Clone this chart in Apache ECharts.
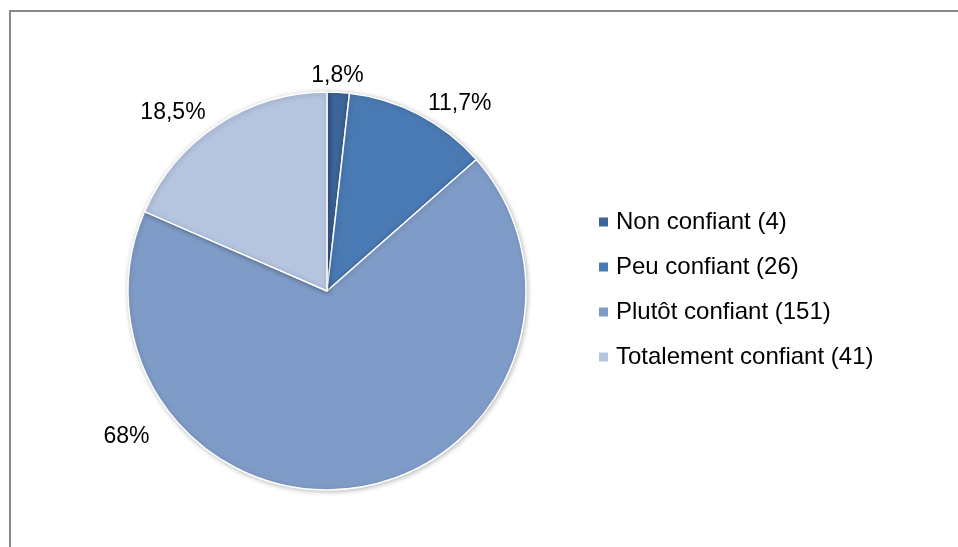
<!DOCTYPE html>
<html>
<head>
<meta charset="utf-8">
<script src="https://cdn.jsdelivr.net/npm/echarts@6/dist/echarts.min.js"></script>
<style>html,body{margin:0;padding:0;background:#fff;}#c{width:958px;height:547px;}</style>
</head>
<body>
<div id="c"></div>
<script>
var categories = ['Non confiant', 'Peu confiant', 'Plutôt confiant', 'Totalement confiant'];
var counts = [4, 26, 151, 41];
var percentLabels = ['1,8%', '11,7%', '68%', '18,5%'];
var colors = ['#3D6599', '#4A7AB3', '#7F9CC8', '#B5C4DF'];
var labelShift = [[-33, 0], [-4, 4], [-262, -68], [2, 2]];

var chart = echarts.init(document.getElementById('c'), null, {renderer: 'canvas'});
var data = categories.map(function (c, i) {
  return { name: c + ' (' + counts[i] + ')', value: counts[i], itemStyle: { color: colors[i] } };
});
chart.setOption({
  animation: false,
  backgroundColor: '#fff',
  graphic: [{
    type: 'rect', shape: { x: 10, y: 11, width: 1000, height: 1000 },
    style: { fill: 'none', stroke: '#8a8a8a', lineWidth: 2 }, silent: true
  }],
  legend: {
    orient: 'vertical', left: 592, top: 205,
    icon: 'rect', itemWidth: 11, itemHeight: 11, itemGap: 21,
    textStyle: { fontFamily: 'Liberation Sans, Arial', fontSize: 24, lineHeight: 22, color: '#000', padding: [0, 0, 0, 2] },
    data: data.map(function (d) { return d.name; })
  },
  series: [{
    type: 'pie',
    center: [327, 291], radius: 199,
    startAngle: 90, clockwise: true,
    data: data,
    itemStyle: { borderColor: '#fff', borderWidth: 1.5, shadowBlur: 5, shadowColor: 'rgba(0,0,0,0.25)', shadowOffsetX: 1, shadowOffsetY: 1 },
    label: {
      show: true, position: 'outside', alignTo: 'none',
      fontFamily: 'Liberation Sans, Arial', fontSize: 23, color: '#000',
      formatter: function (p) { return percentLabels[p.dataIndex]; }
    },
    labelLine: { show: false, length: 17, length2: 0 },
    avoidLabelOverlap: false,
    labelLayout: function (p) {
      return { dx: labelShift[p.dataIndex][0], dy: labelShift[p.dataIndex][1] };
    },
    emphasis: { disabled: true }
  }]
});
</script>
</body>
</html>
